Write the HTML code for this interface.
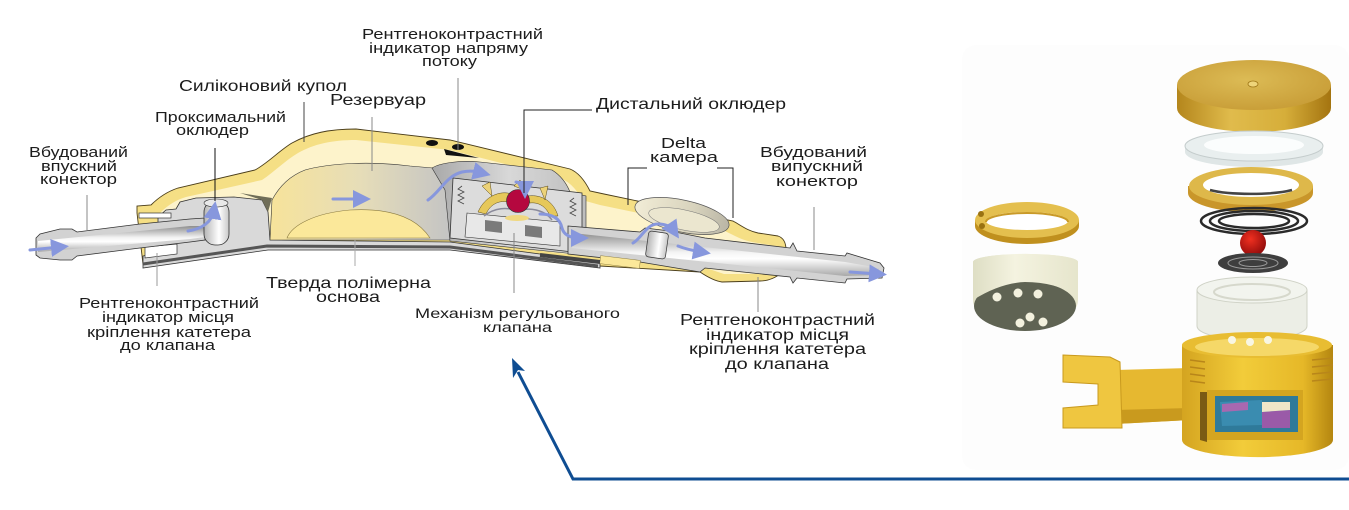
<!DOCTYPE html>
<html><head><meta charset="utf-8">
<style>
html,body{margin:0;padding:0;background:#fff;}
svg{display:block;}
text{font-family:"Liberation Sans","DejaVu Sans",sans-serif;fill:#1c1c1c;}
</style></head>
<body>
<svg width="1349" height="510" viewBox="0 0 1349 510" xmlns="http://www.w3.org/2000/svg">
<defs>
  <linearGradient id="tubeV" x1="0" y1="0" x2="0" y2="1">
    <stop offset="0" stop-color="#8e8e8e"/><stop offset="0.45" stop-color="#f4f4f4"/>
    <stop offset="0.6" stop-color="#ffffff"/><stop offset="1" stop-color="#a8a8a8"/>
  </linearGradient>
  <linearGradient id="resG" x1="0" y1="0" x2="1" y2="0">
    <stop offset="0" stop-color="#f7e39a"/><stop offset="0.5" stop-color="#e6ddb8"/><stop offset="1" stop-color="#c4c4c4"/>
  </linearGradient>
  <linearGradient id="cavG" x1="0" y1="0" x2="1" y2="0">
    <stop offset="0" stop-color="#a9a9a9"/><stop offset="0.5" stop-color="#d8d8d8"/><stop offset="1" stop-color="#bdbdbd"/>
  </linearGradient>
  <linearGradient id="occG" x1="0" y1="0" x2="1" y2="0">
    <stop offset="0" stop-color="#b5b5b5"/><stop offset="0.6" stop-color="#ffffff"/><stop offset="1" stop-color="#c8c8c8"/>
  </linearGradient>
  <linearGradient id="deltaG" x1="0" y1="0" x2="1" y2="0">
    <stop offset="0" stop-color="#f1ecd6"/><stop offset="0.6" stop-color="#d8d3bd"/><stop offset="1" stop-color="#b9b5a5"/>
  </linearGradient>
  <radialGradient id="capTop" cx="0.45" cy="0.4" r="0.7">
    <stop offset="0" stop-color="#dcbb55"/><stop offset="1" stop-color="#c69a34"/>
  </radialGradient>
  <linearGradient id="goldSide" x1="0" y1="0" x2="1" y2="0">
    <stop offset="0" stop-color="#b4861c"/><stop offset="0.35" stop-color="#e0bb4c"/><stop offset="0.7" stop-color="#d6ae3a"/><stop offset="1" stop-color="#a47410"/>
  </linearGradient>
  <linearGradient id="goldBase" x1="0" y1="0" x2="1" y2="0">
    <stop offset="0" stop-color="#d4a420"/><stop offset="0.4" stop-color="#f2cc3a"/><stop offset="0.8" stop-color="#e6b828"/><stop offset="1" stop-color="#b48610"/>
  </linearGradient>
  <linearGradient id="creamSide" x1="0" y1="0" x2="1" y2="0">
    <stop offset="0" stop-color="#dedec4"/><stop offset="0.4" stop-color="#f4f3e0"/><stop offset="1" stop-color="#e6e5cc"/>
  </linearGradient>
  <radialGradient id="redBall" cx="0.4" cy="0.35" r="0.7">
    <stop offset="0" stop-color="#f03020"/><stop offset="1" stop-color="#8e0a0a"/>
  </radialGradient>
  <marker id="bh" markerWidth="6" markerHeight="6" refX="3" refY="3" orient="auto" markerUnits="strokeWidth">
    <path d="M0,0 L6,3 L0,6 Z" fill="#8797dd"/>
  </marker>
</defs>

<!-- right panel faint background -->
<rect x="962" y="45" width="387" height="425" rx="14" fill="#fdfdfd"/>

<!-- ================= DEVICE CROSS SECTION ================= -->
<path d="M137,213 L137,206 L151,205 C158,198 166,192 178,188 L255,170 C268,163 280,150 292,143 C310,133 330,129 356,129 L450,140 L570,169 C580,173 586,183 590,191 L604,194 L733,221 C742,226 748,231 758,233 L778,236 C784,238 786,244 786,250 L786,268 C780,276 770,281 760,281 L722,282 C714,281 706,276 700,272 L600,266 L450,246 L268,246 L143,264 Z" fill="#f5df85" stroke="#4a3d1a" stroke-width="0.9"/>
<path d="M160,213 C168,205 176,200 186,197 L262,180 C274,172 286,160 298,153 C314,144 332,140 356,140 L450,150 L560,178 C572,183 578,192 582,200 L600,205 L725,231 C735,236 742,240 752,242 L776,246 L778,266 C772,272 764,274 758,274 L724,274 L700,266 L600,258 L450,240 L268,240 L160,256 Z" fill="#fdf3cb"/>

<path d="M158,217 L166,210 L176,209 L180,202 L196,198 L234,197 L262,200 L268,212 L270,240 L450,242 L600,262 L600,268 L450,250 L268,250 L143,268 L143,256 L158,252 Z" fill="#d9d9d9" stroke="#333" stroke-width="0.8"/>
<path d="M240,193 L272,198 L268,212 L262,200 Z" fill="#6f6d58"/>
<polyline points="143,264 267,246 450,247 598,266" fill="none" stroke="#555" stroke-width="3"/>

<rect x="139" y="213" width="32" height="5" fill="#fff" stroke="#333" stroke-width="0.7"/>
<path d="M145,247 L177,244 L177,254 L145,258 Z" fill="#fff" stroke="#333" stroke-width="0.7"/>

<path d="M270,240 L272,200 C280,185 292,175 305,170 C330,163 370,161 410,166 L433,168 L445,180 L450,240 Z" fill="url(#resG)" stroke="#333" stroke-width="0.6"/>
<path d="M287,238 C292,225 315,213 350,210 C385,208 415,215 430,238 Z" fill="#fbe89a" stroke="#8a7a40" stroke-width="0.6"/>

<path d="M432,168 C440,163 460,160 480,162 L552,170 C560,175 566,182 570,192 L586,196 L586,245 L575,254 L450,241 L445,190 Z" fill="url(#cavG)" stroke="#333" stroke-width="0.6"/>
<path d="M453,178 L582,193 L582,242 L573,252 L450,238 Z" fill="#dcdcdc" stroke="#333" stroke-width="0.8"/>
<path d="M467,213 L560,222 L560,246 L465,237 Z" fill="#e8e8e8" stroke="#333" stroke-width="0.6"/>
<path d="M485,220 L502,222 L502,233 L485,231 Z" fill="#7a7a7a"/>
<path d="M525,225 L542,227 L542,238 L525,236 Z" fill="#7a7a7a"/>
<polyline points="462,186 458,189 464,192 458,195 464,198 458,201 464,204" fill="none" stroke="#444" stroke-width="0.8"/>
<polyline points="574,198 570,201 576,204 570,207 576,210 570,213 576,216" fill="none" stroke="#444" stroke-width="0.8"/>
<path d="M478,212 C485,196 500,190 512,194 L508,202 C498,200 490,205 486,214 Z" fill="#e6c85a" stroke="#5a4a1a" stroke-width="0.5"/>
<path d="M528,196 C542,194 554,202 558,216 L550,216 C546,206 538,202 530,203 Z" fill="#e6c85a" stroke="#5a4a1a" stroke-width="0.5"/>
<path d="M482,186 L490,182 L492,196 Z M540,188 L548,186 L545,200 Z M514,186 L520,180 L524,190 Z" fill="#ecd278" stroke="#5a4a1a" stroke-width="0.5"/>
<path d="M484,216 C494,208 508,206 518,212 C528,206 545,210 552,220" fill="none" stroke="#8a8a9a" stroke-width="1.5"/>
<ellipse cx="517" cy="218" rx="12" ry="3" fill="#f0d880"/>
<circle cx="518" cy="201" r="11.5" fill="#b5083f" stroke="#333" stroke-width="0.6"/>

<path d="M568,226 L640,232 L645,228 L670,231 L705,238 L790,248 L793,243 L797,251 L845,256 L847,253 L880,263 L884,268 L882,278 L847,279 L845,283 L797,278 L793,283 L790,277 L705,268 L700,272 L640,262 L568,254 Z" fill="#d2d2d2" stroke="#333" stroke-width="0.8"/>
<path d="M572,233 L845,262 L879,268 L879,275 L845,276 L572,248 Z" fill="url(#tubeV)"/>
<ellipse cx="682" cy="216" rx="48" ry="16" transform="rotate(12 682 216)" fill="url(#deltaG)" stroke="#555" stroke-width="0.7"/>
<ellipse cx="684" cy="220" rx="36" ry="10" transform="rotate(12 684 220)" fill="#ebe6cf" stroke="#777" stroke-width="0.5"/>
<rect x="647" y="232" width="20" height="26" rx="3" fill="url(#occG)" stroke="#333" stroke-width="0.7" transform="rotate(8 657 245)"/>
<rect x="600" y="258" width="40" height="8" fill="#fbe89a" stroke="#8a7a40" stroke-width="0.5" transform="rotate(7 620 262)"/>
<path d="M600,262 L540,255" stroke="#444" stroke-width="4"/>

<path d="M36,238 L40,234 L60,229 L72,229 L77,232 L140,224 L190,219 L205,218 L205,240 L190,242 L140,248 L77,256 L72,260 L60,260 L40,258 L36,255 Z" fill="#d2d2d2" stroke="#333" stroke-width="0.8"/>
<path d="M38,241 L190,226 L205,226 L205,237 L190,239 L38,252 Z" fill="url(#tubeV)"/>
<rect x="204" y="201" width="25" height="44" rx="11" fill="url(#occG)" stroke="#333" stroke-width="0.8"/>
<ellipse cx="216" cy="203" rx="12" ry="4" fill="#e8e8e8" stroke="#333" stroke-width="0.6"/>

<ellipse cx="432" cy="143" rx="6" ry="3" fill="#111"/>
<ellipse cx="458" cy="147" rx="6" ry="3" fill="#111"/>
<path d="M444,149 L446,155 L479,158 Z" fill="#111"/>

<g fill="none" stroke="#8797dd" stroke-width="3" stroke-linecap="round">
  <line x1="30" y1="250" x2="60" y2="247" marker-end="url(#bh)"/>
  <path d="M188,231 C202,229 212,222 214,210" marker-end="url(#bh)"/>
  <line x1="333" y1="199" x2="362" y2="199" marker-end="url(#bh)"/>
  <path d="M428,200 C440,192 446,176 462,172 C472,170 478,172 482,173" marker-end="url(#bh)"/>
  <path d="M516,182 C522,183 525,186 525,190" marker-end="url(#bh)"/>
  <path d="M540,214 C552,214 560,218 562,228 C564,236 572,238 580,238" marker-end="url(#bh)"/>
  <path d="M633,243 C642,238 646,224 658,224 C668,224 672,228 674,231" marker-end="url(#bh)"/>
  <path d="M678,246 C688,250 696,251 702,252" marker-end="url(#bh)"/>
  <line x1="850" y1="272" x2="878" y2="274" marker-end="url(#bh)"/>
</g>

<g stroke-width="1" fill="none">
  <line x1="304" y1="102" x2="304" y2="142" stroke="#444"/>
  <line x1="372" y1="117" x2="372" y2="171" stroke="#888"/>
  <line x1="215" y1="148" x2="215" y2="201" stroke="#111"/>
  <line x1="87" y1="195" x2="87" y2="230" stroke="#888"/>
  <line x1="157" y1="253" x2="157" y2="286" stroke="#999"/>
  <line x1="355" y1="240" x2="355" y2="266" stroke="#aaa"/>
  <line x1="458" y1="78" x2="458" y2="150" stroke="#888"/>
  <polyline points="592,110 524,110 524,193" stroke="#222"/>
  <polyline points="647,168 628,168 628,205" stroke="#222"/>
  <polyline points="717,168 733,168 733,218" stroke="#222"/>
  <line x1="814" y1="207" x2="814" y2="250" stroke="#888"/>
  <line x1="514" y1="233" x2="514" y2="293" stroke="#888"/>
  <line x1="758" y1="277" x2="758" y2="312" stroke="#888"/>
</g>

<g font-size="15">
  <text x="362" y="39" textLength="181" lengthAdjust="spacingAndGlyphs">Рентгеноконтрастний</text>
  <text x="369" y="53" textLength="159" lengthAdjust="spacingAndGlyphs">індикатор напряму</text>
  <text x="422" y="66" textLength="55" lengthAdjust="spacingAndGlyphs">потоку</text>
  <text x="179" y="91" font-size="16" textLength="168" lengthAdjust="spacingAndGlyphs">Силіконовий купол</text>
  <text x="330" y="105" font-size="16" textLength="96" lengthAdjust="spacingAndGlyphs">Резервуар</text>
  <text x="155" y="122" textLength="131" lengthAdjust="spacingAndGlyphs">Проксимальний</text>
  <text x="176" y="135" textLength="73" lengthAdjust="spacingAndGlyphs">оклюдер</text>
  <text x="29" y="157" textLength="99" lengthAdjust="spacingAndGlyphs">Вбудований</text>
  <text x="41" y="171" textLength="76" lengthAdjust="spacingAndGlyphs">впускний</text>
  <text x="40" y="184" textLength="77" lengthAdjust="spacingAndGlyphs">конектор</text>
  <text x="79" y="308" textLength="180" lengthAdjust="spacingAndGlyphs">Рентгеноконтрастний</text>
  <text x="102" y="322" textLength="132" lengthAdjust="spacingAndGlyphs">індикатор місця</text>
  <text x="87" y="337" textLength="164" lengthAdjust="spacingAndGlyphs">кріплення катетера</text>
  <text x="120" y="350" textLength="95" lengthAdjust="spacingAndGlyphs">до клапана</text>
  <text x="266" y="288" font-size="16" textLength="165" lengthAdjust="spacingAndGlyphs">Тверда полімерна</text>
  <text x="316" y="302" font-size="16" textLength="64" lengthAdjust="spacingAndGlyphs">основа</text>
  <text x="596" y="109" font-size="16" textLength="190" lengthAdjust="spacingAndGlyphs">Дистальний оклюдер</text>
  <text x="661" y="148" textLength="45" lengthAdjust="spacingAndGlyphs">Delta</text>
  <text x="650" y="162" textLength="68" lengthAdjust="spacingAndGlyphs">камера</text>
  <text x="760" y="157" textLength="107" lengthAdjust="spacingAndGlyphs">Вбудований</text>
  <text x="771" y="171" textLength="92" lengthAdjust="spacingAndGlyphs">випускний</text>
  <text x="776" y="186" textLength="82" lengthAdjust="spacingAndGlyphs">конектор</text>
  <text x="415" y="318" font-size="14" textLength="205" lengthAdjust="spacingAndGlyphs">Механізм регульованого</text>
  <text x="483" y="332" font-size="14" textLength="69" lengthAdjust="spacingAndGlyphs">клапана</text>
  <text x="680" y="325" font-size="16" textLength="195" lengthAdjust="spacingAndGlyphs">Рентгеноконтрастний</text>
  <text x="706" y="340" font-size="16" textLength="143" lengthAdjust="spacingAndGlyphs">індикатор місця</text>
  <text x="689" y="354" font-size="16" textLength="177" lengthAdjust="spacingAndGlyphs">кріплення катетера</text>
  <text x="725" y="369" font-size="16" textLength="104" lengthAdjust="spacingAndGlyphs">до клапана</text>
</g>

<polyline points="1349,479 573,479 518,372" fill="none" stroke="#0f4d92" stroke-width="3"/>
<path d="M512,358 L525,371 L518,370 L513,378 Z" fill="#0f4d92"/>

<!-- ================= EXPLODED VIEW ================= -->
<!-- left ring -->
<path d="M975,220 L975,226 A52,18 0 0 0 1079,226 L1079,220 Z" fill="#c0901e"/>
<ellipse cx="1027" cy="220" rx="52" ry="18" fill="#e4bf4e"/>
<ellipse cx="1027" cy="221" rx="41" ry="9" fill="#ffffff"/>
<path d="M986,222 A41,9 0 0 1 1068,222" fill="none" stroke="#c99a28" stroke-width="2"/>
<circle cx="981" cy="214" r="3" fill="#9a7212"/>
<circle cx="982" cy="226" r="3" fill="#9a7212"/>
<!-- left cylinder (viewed from below) -->
<path d="M973,262 L973,300 A52,28 0 0 0 1078,300 L1078,262 A52,8 0 0 0 973,262 Z" fill="url(#creamSide)"/>
<ellipse cx="1025" cy="306" rx="51" ry="25" fill="#5f6353"/>
<path d="M973,262 L973,300 Q1000,283 1025,282 Q1055,282 1078,296 L1078,262 A52,8 0 0 0 973,262 Z" fill="url(#creamSide)"/>
<g fill="#f3f1de">
  <circle cx="997" cy="297" r="4.5"/><circle cx="1018" cy="293" r="4.5"/><circle cx="1038" cy="294" r="4.5"/>
  <circle cx="1030" cy="317" r="4.5"/><circle cx="1020" cy="323" r="4.5"/><circle cx="1043" cy="322" r="4.5"/>
</g>

<!-- top cap -->
<path d="M1177,85 L1177,108 A77,24 0 0 0 1331,108 L1331,85 Z" fill="url(#goldSide)"/>
<ellipse cx="1254" cy="85" rx="77" ry="25" fill="url(#capTop)"/>
<ellipse cx="1253" cy="84" rx="5" ry="3" fill="#eed47a" stroke="#a07818" stroke-width="0.8"/>
<!-- clear ring -->
<path d="M1185,146 L1185,152 A69,15 0 0 0 1323,152 L1323,146 Z" fill="#dfe6e6"/>
<ellipse cx="1254" cy="146" rx="69" ry="15" fill="#e9efef" stroke="#c4cccc" stroke-width="1"/>
<ellipse cx="1254" cy="145" rx="50" ry="9" fill="#fbfdfd"/>
<!-- gold ring -->
<path d="M1188,186 L1188,193 A62,19 0 0 0 1313,193 L1313,186 Z" fill="#c9962a"/>
<ellipse cx="1251" cy="186" rx="62" ry="19" fill="#deb84a"/>
<ellipse cx="1251" cy="185" rx="48" ry="12" fill="#ffffff"/>
<path d="M1210,190 A48,8 0 0 0 1292,190" fill="none" stroke="#444" stroke-width="2.5"/>
<!-- spring -->
<g fill="none" stroke="#2a2a2a" stroke-width="2.5">
  <ellipse cx="1254" cy="221" rx="53" ry="13"/>
  <ellipse cx="1254" cy="221" rx="44" ry="10"/>
  <ellipse cx="1254" cy="221" rx="35" ry="7"/>
</g>
<circle cx="1253" cy="243" r="13" fill="url(#redBall)"/>
<ellipse cx="1253" cy="263" rx="35" ry="10" fill="#3e3e3e"/>
<ellipse cx="1253" cy="263" rx="25" ry="6" fill="none" stroke="#999" stroke-width="1"/>
<ellipse cx="1253" cy="263" rx="14" ry="3.5" fill="none" stroke="#999" stroke-width="1"/>
<!-- clear cylinder -->
<path d="M1197,290 L1197,326 A55,14 0 0 0 1307,326 L1307,290 Z" fill="#eceee6" stroke="#cfd2c6" stroke-width="1"/>
<ellipse cx="1252" cy="290" rx="55" ry="13" fill="#f2f4ee" stroke="#cfd2c6" stroke-width="1"/>
<ellipse cx="1252" cy="292" rx="38" ry="8" fill="none" stroke="#d6d8cc" stroke-width="2"/>
<!-- arm -->
<path d="M1115,370 L1190,368 L1190,420 L1115,424 Z" fill="#e6b830"/>
<path d="M1115,410 L1190,408 L1190,420 L1115,424 Z" fill="#c99a1e"/>
<path d="M1063,355 L1110,357 L1120,362 L1122,428 L1063,428 L1063,408 L1098,405 L1098,384 L1063,382 Z" fill="#efc640" stroke="#c99a1e" stroke-width="1"/>
<!-- gold base -->
<path d="M1182,345 L1182,440 A75,17 0 0 0 1333,440 L1333,345 Z" fill="url(#goldBase)"/>
<ellipse cx="1257" cy="345" rx="75" ry="13" fill="#e8bd32"/>
<ellipse cx="1257" cy="347" rx="62" ry="9" fill="#f5d868"/>
<g stroke="#b8861a" stroke-width="1.5">
  <line x1="1312" y1="360" x2="1333" y2="358"/><line x1="1312" y1="367" x2="1333" y2="365"/>
  <line x1="1312" y1="374" x2="1333" y2="372"/><line x1="1312" y1="381" x2="1333" y2="379"/>
  <line x1="1190" y1="360" x2="1205" y2="362"/><line x1="1190" y1="367" x2="1205" y2="369"/>
  <line x1="1190" y1="374" x2="1205" y2="376"/><line x1="1190" y1="381" x2="1205" y2="383"/>
</g>
<g fill="#f8f6e4"><circle cx="1232" cy="340" r="4"/><circle cx="1250" cy="342" r="4"/><circle cx="1268" cy="340" r="4"/></g>
<path d="M1207,390 L1303,390 L1303,440 L1207,440 Z" fill="#d4a520"/>
<path d="M1215,396 L1298,396 L1298,432 L1215,432 Z" fill="#2f7a9a"/>
<path d="M1220,402 L1262,400 L1262,425 L1222,426 Z" fill="#3a8cb0"/>
<path d="M1262,412 L1290,410 L1290,428 L1262,428 Z" fill="#9a5aa8"/>
<path d="M1262,402 L1290,402 L1290,410 L1262,412 Z" fill="#f0e6c8"/>
<path d="M1222,404 L1248,402 L1248,410 L1222,412 Z" fill="#a868b0"/>
<path d="M1200,392 L1207,392 L1207,442 L1200,440 Z" fill="#7a5a14"/>
</svg>
</body></html>
